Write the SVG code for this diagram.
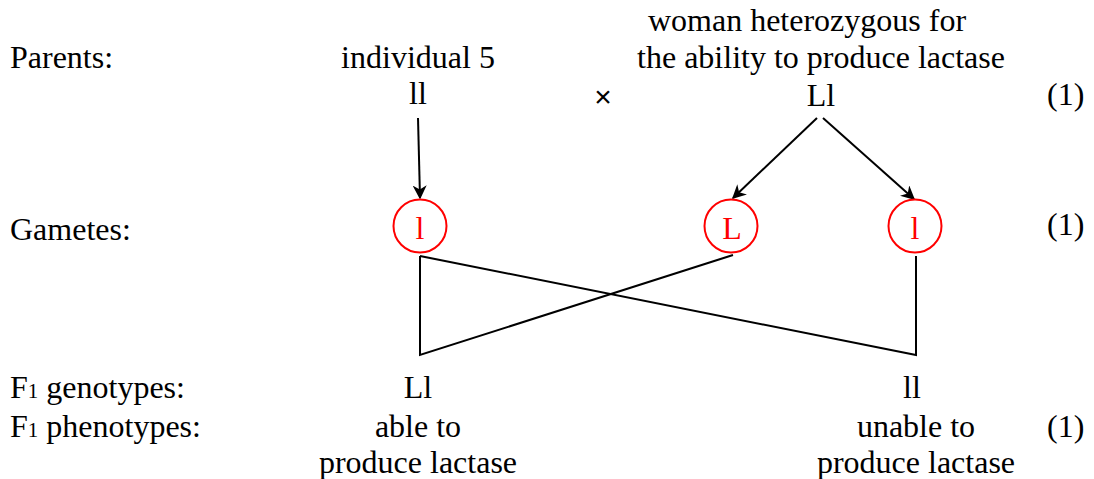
<svg xmlns="http://www.w3.org/2000/svg" width="1094" height="479" viewBox="0 0 1094 479">
<style>
text{font-family:"Liberation Serif","Times New Roman",serif;font-size:32px;fill:#000}
.c{text-anchor:middle}
.g{fill:#f00}
.circ{fill:#fff;stroke:#f00;stroke-width:2}
.ln{stroke:#000;stroke-width:2;fill:none}
.x{font-family:"Liberation Sans",Arial,sans-serif;font-size:30px}
</style>
<defs>
<marker id="ah" viewBox="0 0 10 10" refX="9" refY="5" markerWidth="14" markerHeight="14" markerUnits="userSpaceOnUse" orient="auto">
<path d="M0,0 L10,5 L0,10 L3,5 z" fill="#000"/>
</marker>
</defs>
<g id="labels">
<text x="10" y="68">Parents:</text>
<text x="10" y="240">Gametes:</text>
<text x="10" y="398">F<tspan font-size="21">1</tspan> genotypes:</text>
<text x="10" y="437">F<tspan font-size="21">1</tspan> phenotypes:</text>
<text x="1047" y="105">(1)</text>
<text x="1047" y="235">(1)</text>
<text x="1047" y="437">(1)</text>
</g>
<g id="parent1">
<text class="c" x="418" y="68">individual 5</text>
<text class="c" x="418" y="104">ll</text>
</g>
<text class="x c" x="603" y="107">×</text>
<g id="parent2">
<text class="c" x="807" y="31">woman heterozygous for</text>
<text class="c" x="821" y="68">the ability to produce lactase</text>
<text class="c" x="821" y="106">Ll</text>
</g>
<g id="connectors">
<line class="ln" x1="418" y1="118" x2="420" y2="198" marker-end="url(#ah)"/>
<line class="ln" x1="817" y1="118" x2="733" y2="198" marker-end="url(#ah)"/>
<line class="ln" x1="823" y1="118" x2="914" y2="199" marker-end="url(#ah)"/>
<polyline class="ln" points="420,256 420,355 733,255"/>
<polyline class="ln" points="420,256 916,355 916,256"/>
</g>
<g id="gamete1">
<circle class="circ" cx="420" cy="226" r="26.5"/>
<text class="c g" x="420" y="239">l</text>
</g>
<g id="gamete2">
<circle class="circ" cx="731" cy="226" r="26.5"/>
<text class="c g" x="732" y="239">L</text>
</g>
<g id="gamete3">
<circle class="circ" cx="915" cy="226" r="26.5"/>
<text class="c g" x="915" y="239">l</text>
</g>
<g id="offspring1">
<text class="c" x="418" y="398">Ll</text>
<text class="c" x="418" y="437">able to</text>
<text class="c" x="418" y="473">produce lactase</text>
</g>
<g id="offspring2">
<text class="c" x="912" y="398">ll</text>
<text class="c" x="916" y="437">unable to</text>
<text class="c" x="916" y="473">produce lactase</text>
</g>
</svg>
